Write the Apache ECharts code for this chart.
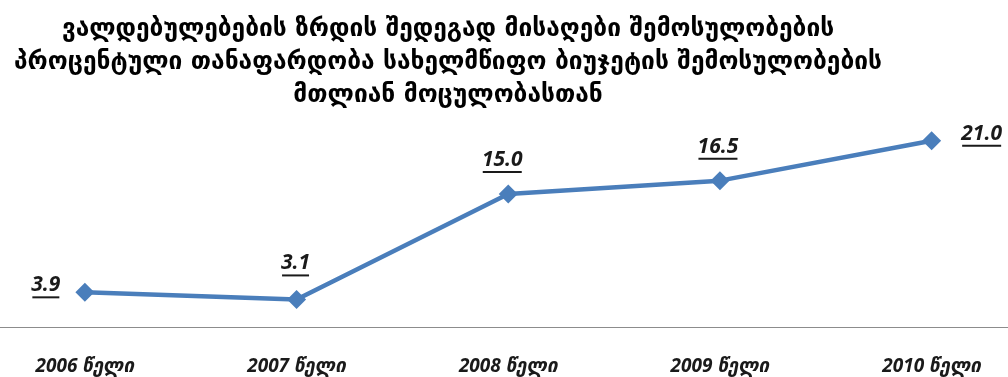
<!DOCTYPE html>
<html>
<head>
<meta charset="utf-8">
<script src="https://cdn.jsdelivr.net/npm/echarts@6/dist/echarts.min.js"></script>
<style>
html,body{margin:0;padding:0;background:#fff;}
#chart{width:1008px;height:377px;}
</style>
</head>
<body>
<div id="chart"></div>
<script>
const titleLines = [
  "ვალდებულებების ზრდის შედეგად მისაღები შემოსულობების",
  "პროცენტული თანაფარდობა სახელმწიფო ბიუჯეტის შემოსულობების",
  "მთლიან მოცულობასთან"
];
const categories = ["2006 წელი", "2007 წელი", "2008 წელი", "2009 წელი", "2010 წელი"];
const values = [3.9, 3.1, 15.0, 16.5, 21.0];
const labelOffsets = [[-39, -6], [-1, -35], [-6, -33], [-2, -33], [50, -6]];

const labelFont = "italic bold 21px 'Open Sans', 'DejaVu Sans', sans-serif";
const cv = document.createElement('canvas').getContext('2d');
cv.font = labelFont;
const rich = {
  v: {fontSize: 21, fontWeight: 'bold', fontStyle: 'italic', fontFamily: "'Open Sans', 'DejaVu Sans', sans-serif", color: '#1a1a1a', lineHeight: 22}
};
values.forEach((v, i) => {
  rich['u' + i] = {width: Math.round(cv.measureText(v.toFixed(1)).width) - 2, height: 2, lineHeight: 2, backgroundColor: '#1a1a1a'};
});

const chart = echarts.init(document.getElementById('chart'));
chart.setOption({
  animation: false,
  title: {
    text: titleLines.join('\n'),
    left: 443,
    top: 8,
    textAlign: 'center',
    textStyle: {fontSize: 24.5, fontWeight: 'bold', fontFamily: "'DejaVu Sans', sans-serif", color: '#000', lineHeight: 33}
  },
  grid: {left: -21, right: -29.5, top: 105.3, bottom: 50.1, containLabel: false, outerBoundsMode: 'none'},
  xAxis: {
    type: 'category',
    data: categories,
    boundaryGap: true,
    axisLine: {lineStyle: {color: '#8c8c8c', width: 1}},
    axisTick: {length: 7, lineStyle: {color: '#8c8c8c'}},
    axisLabel: {margin: 30, fontSize: 19, fontWeight: 'bold', fontStyle: 'italic', fontFamily: "'Open Sans', 'DejaVu Sans', sans-serif", color: '#1a1a1a', hideOverlap: false}
  },
  yAxis: {
    type: 'value', min: 0, max: 25,
    show: false, splitLine: {show: false}
  },
  series: [{
    type: 'line',
    data: values.map((v, i) => ({value: v, label: {offset: labelOffsets[i]}})),
    symbol: 'diamond',
    symbolSize: 19,
    lineStyle: {color: '#4a7ebb', width: 4.5},
    itemStyle: {color: '#4a7ebb'},
    label: {
      show: true,
      position: 'inside',
      formatter: p => '{v|' + p.value.toFixed(1) + '}\n{u' + p.dataIndex + '|}',
      rich: rich
    }
  }]
});
</script>
</body>
</html>
